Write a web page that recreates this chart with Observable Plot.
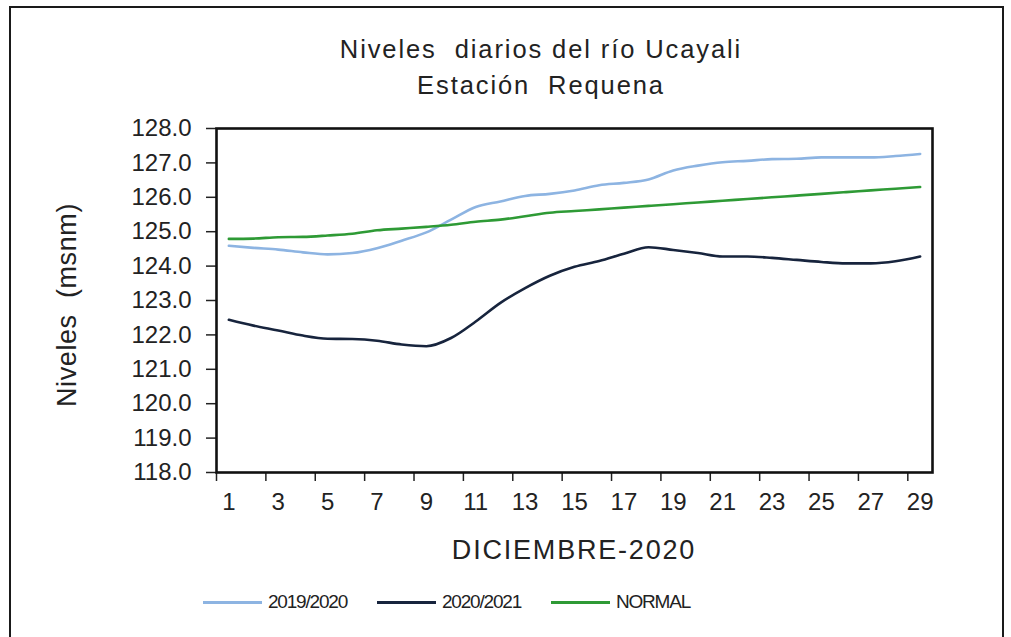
<!DOCTYPE html>
<html>
<head>
<meta charset="utf-8">
<script src="https://cdn.jsdelivr.net/npm/d3@7"></script>
<script src="https://cdn.jsdelivr.net/npm/@observablehq/plot@0.6"></script>
<style>
  body { margin: 0; background: #fff; font-family: "Liberation Sans", Arial, sans-serif; }
  #wrap { position: relative; width: 1011px; height: 637px; overflow: hidden; background: #fff; }
  #border { position: absolute; left: 9px; top: 6px; width: 995px; height: 660px; border: 2.5px solid #1a1a1a; box-sizing: border-box; }
  #chart { position: absolute; left: 0; top: 0; }
  .title { position: absolute; left: 291px; width: 500px; text-align: center; font-size: 25.5px; letter-spacing: 1.9px; color: #222; white-space: pre; }
  #xlabel { position: absolute; left: 324px; width: 500px; top: 535px; text-align: center; font-size: 27px; letter-spacing: 1.8px; color: #222; }
  #ylabel { position: absolute; left: 67px; top: 305px; transform: translate(-50%, -50%) rotate(-90deg); font-size: 27px; letter-spacing: 0.6px; color: #222; white-space: pre; }
  #legend { position: absolute; top: 591px; left: 0; width: 1011px; height: 24px; }
  .item { position: absolute; top: 0; display: flex; align-items: center; font-size: 19px; letter-spacing: -1.2px; color: #222; }
  .sw { display: inline-block; width: 59px; height: 3px; margin-right: 6px; }
</style>
</head>
<body>
<div id="wrap">
  <div id="border"></div>
  <div id="chart"></div>
  <div class="title" style="top:35px">Niveles  diarios del río Ucayali</div>
  <div class="title" style="top:71px">Estación  Requena</div>
  <div id="xlabel">DICIEMBRE-2020</div>
  <div id="ylabel">Niveles  (msnm)</div>
  <div id="legend"></div>
</div>
<script>
// Days of December 2020
const days = d3.range(1, 30);
const dayTickLabels = [1, 3, 5, 7, 9, 11, 13, 15, 17, 19, 21, 23, 25, 27, 29];
const yTicks = [118, 119, 120, 121, 122, 123, 124, 125, 126, 127, 128];

const series2019 = [124.59, 124.53, 124.48, 124.40, 124.34, 124.38, 124.52, 124.74, 124.98, 125.35, 125.72, 125.88, 126.04, 126.10, 126.20, 126.35, 126.42, 126.52, 126.78, 126.92, 127.02, 127.06, 127.11, 127.12, 127.16, 127.16, 127.16, 127.20, 127.26];
const series2020 = [122.44, 122.27, 122.13, 121.98, 121.89, 121.88, 121.83, 121.72, 121.67, 121.91, 122.39, 122.93, 123.36, 123.72, 123.98, 124.15, 124.36, 124.55, 124.47, 124.38, 124.28, 124.28, 124.24, 124.18, 124.12, 124.08, 124.08, 124.14, 124.28];
const seriesNormal = [124.79, 124.80, 124.84, 124.85, 124.89, 124.94, 125.04, 125.09, 125.14, 125.20, 125.29, 125.35, 125.45, 125.55, 125.60, 125.65, 125.70, 125.75, 125.80, 125.85, 125.90, 125.95, 126.00, 126.05, 126.10, 126.15, 126.20, 126.25, 126.30];

const seriesNames = ["2019/2020", "2020/2021", "NORMAL"];
const seriesColors = ["#8db4e2", "#17243d", "#2e9a35"];
const allSeries = [series2019, series2020, seriesNormal];

const data = [];
allSeries.forEach((s, i) => s.forEach((v, j) => data.push({day: days[j], value: v, serie: seriesNames[i]})));

const boundaries = days.filter((d, i) => i % 2 === 0).map(d => d - 0.5);

const chart = Plot.plot({
  width: 1011,
  height: 580,
  marginLeft: 216,
  marginRight: 79,
  marginTop: 128,
  marginBottom: 108,
  style: {fontFamily: "'Liberation Sans', Arial, sans-serif", color: "#222", background: "transparent"},
  x: {type: "linear", domain: [days[0] - 0.5, days[days.length - 1] + 0.5]},
  y: {domain: [118, 128]},
  color: {domain: seriesNames, range: seriesColors},
  marks: [
    Plot.axisY(yTicks, {tickSize: 10, tickPadding: 15, tickFormat: d3.format(".1f"), fontSize: 24, label: null, stroke: "#222", strokeWidth: 1.5, style: "letter-spacing:2px"}),
    Plot.axisX(boundaries, {tickSize: 9, tickFormat: () => "", label: null, stroke: "#222", strokeWidth: 1.5}),
    Plot.axisX(dayTickLabels, {tickSize: 0, tickPadding: 20, fontSize: 24, label: null, style: "letter-spacing:0.5px"}),
    Plot.line(data, {x: "day", y: "value", z: "serie", stroke: "serie", strokeWidth: 2.6, curve: "monotone-x"}),
    Plot.frame({stroke: "#111", strokeWidth: 2.6})
  ]
});
document.getElementById("chart").appendChild(chart);

// Legend
const legendPos = [203, 377, 551];
const legend = document.getElementById("legend");
seriesNames.forEach((n, i) => {
  const it = document.createElement("div");
  it.className = "item";
  it.style.left = legendPos[i] + "px";
  it.innerHTML = `<span class="sw" style="background:${seriesColors[i]}"></span><span>${n}</span>`;
  legend.appendChild(it);
});
</script>
</body>
</html>
